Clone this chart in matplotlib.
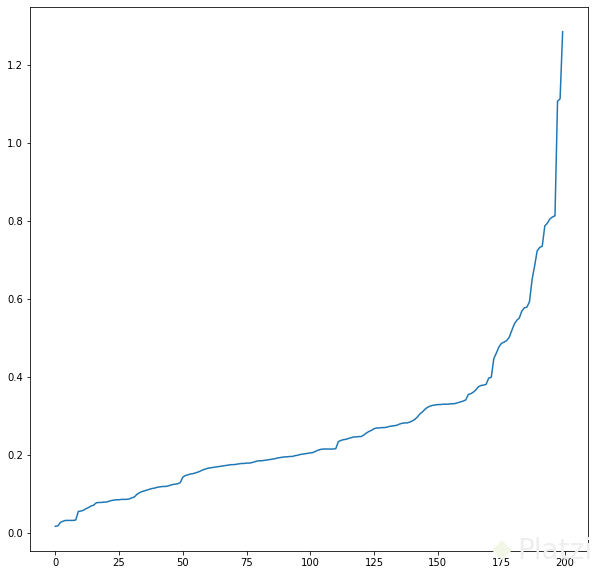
import matplotlib
matplotlib.use("Agg")
import matplotlib.pyplot as plt

# distancias ordenadas, una por punto
distancias = [
    0.018, 0.019, 0.028, 0.031, 0.033, 0.033, 0.033, 0.033, 0.034, 0.056,
    0.057, 0.059, 0.063, 0.066, 0.070, 0.072, 0.078, 0.079, 0.079, 0.080,
    0.080, 0.082, 0.084, 0.085, 0.086, 0.086, 0.087, 0.087, 0.087, 0.088,
    0.091, 0.093, 0.100, 0.104, 0.107, 0.109, 0.111, 0.113, 0.115, 0.116,
    0.118, 0.119, 0.120, 0.120, 0.121, 0.123, 0.125, 0.126, 0.127, 0.130,
    0.144, 0.148, 0.150, 0.152, 0.153, 0.155, 0.157, 0.160, 0.163, 0.165,
    0.167, 0.168, 0.169, 0.170, 0.171, 0.172, 0.173, 0.174, 0.175, 0.176,
    0.176, 0.177, 0.178, 0.179, 0.179, 0.180, 0.180, 0.181, 0.183, 0.185,
    0.186, 0.186, 0.187, 0.188, 0.189, 0.190, 0.191, 0.193, 0.194, 0.195,
    0.196, 0.196, 0.197, 0.197, 0.199, 0.200, 0.202, 0.203, 0.204, 0.205,
    0.206, 0.207, 0.210, 0.213, 0.215, 0.216, 0.216, 0.216, 0.216, 0.216,
    0.217, 0.235, 0.238, 0.240, 0.241, 0.243, 0.245, 0.247, 0.247, 0.248,
    0.248, 0.252, 0.257, 0.261, 0.264, 0.268, 0.270, 0.270, 0.271, 0.271,
    0.272, 0.274, 0.275, 0.276, 0.277, 0.280, 0.282, 0.283, 0.283, 0.285,
    0.288, 0.292, 0.298, 0.306, 0.311, 0.318, 0.323, 0.326, 0.328, 0.329,
    0.330, 0.330, 0.331, 0.331, 0.331, 0.332, 0.332, 0.333, 0.335, 0.337,
    0.339, 0.342, 0.356, 0.358, 0.362, 0.368, 0.376, 0.379, 0.380, 0.382,
    0.398, 0.400, 0.448, 0.462, 0.478, 0.487, 0.490, 0.494, 0.502, 0.519,
    0.536, 0.546, 0.552, 0.570, 0.578, 0.580, 0.594, 0.650, 0.685, 0.724,
    0.733, 0.736, 0.788, 0.795, 0.806, 0.811, 0.814, 1.108, 1.114, 1.286,
]

fig = plt.figure(figsize=(595 / 72, 575 / 72), dpi=72)
ax = fig.add_axes([30 / 595, 24 / 575, 558 / 595, 544 / 575])
ax.plot(distancias)
ax.tick_params(labelsize=10)

# marca de agua (logo + texto muy tenues)
fig.text(502 / 595, 12 / 575, "\u25C6", fontsize=26, color="#f1f6e6",
         ha="center", va="bottom", zorder=0)
fig.text(517 / 595, 10 / 575, "Platzi", fontsize=28, color="#eeeeee",
         ha="left", va="bottom", zorder=0)

fig.savefig("out.png", dpi=72)
